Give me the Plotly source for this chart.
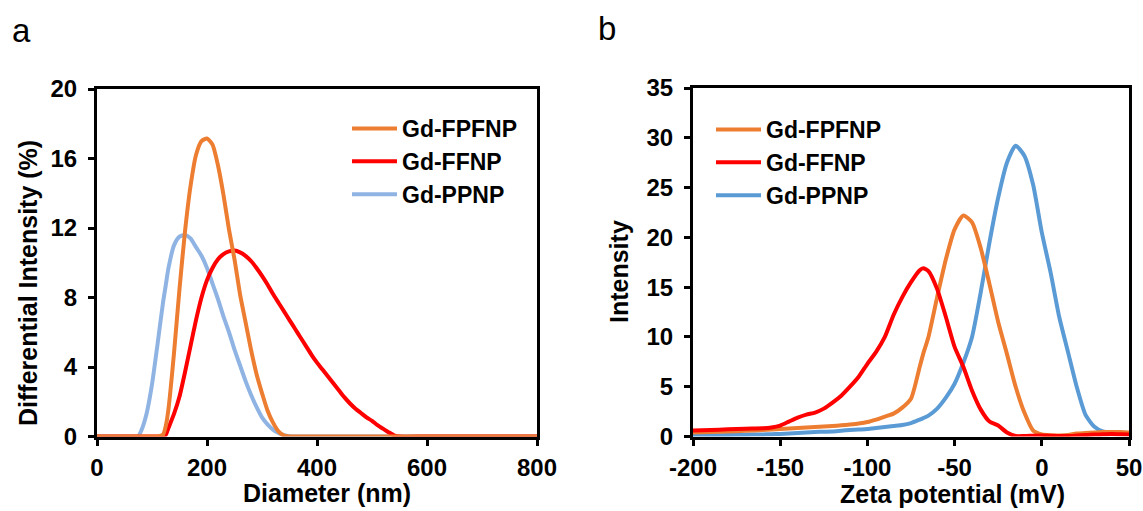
import plotly.graph_objects as go

# ---------------- Panel a: DLS size distribution ----------------
diameter_nm = [0, 50, 70, 75, 80, 90, 100, 110, 120, 125, 130, 140, 150, 160, 170, 180, 190, 200,
               210, 220, 230, 240, 250, 260, 270, 280, 290, 300, 310, 320, 330, 340, 350,
               360, 370, 380, 390, 400, 410, 420, 430, 440, 450, 460, 470, 480, 490, 500,
               510, 520, 530, 540, 550, 600, 700, 800]

fpfnp_size = [0, 0, 0, 0, 0, 0, 0, 0, 0.1, 0.6, 1.6, 4.8, 8.5, 11.8, 14.4, 16.2, 17.0, 17.15,
              16.8, 15.6, 13.9, 11.9, 10.2, 8.2, 6.6, 5.0, 3.6, 2.5, 1.5, 0.8, 0.3, 0.05, 0,
              0, 0, 0, 0, 0, 0, 0, 0, 0, 0, 0, 0, 0, 0, 0,
              0, 0, 0, 0, 0, 0, 0, 0]

ffnp_size = [0, 0, 0, 0, 0, 0, 0, 0, 0, 0.1, 0.5, 1.3, 2.3, 3.7, 5.2, 6.7, 8.0, 9.0,
             9.7, 10.2, 10.5, 10.65, 10.7, 10.6, 10.4, 10.1, 9.7, 9.25, 8.75, 8.2, 7.7, 7.2, 6.7,
             6.2, 5.7, 5.2, 4.7, 4.25, 3.85, 3.45, 3.05, 2.65, 2.25, 1.9, 1.6, 1.35, 1.1, 0.9,
             0.65, 0.45, 0.25, 0.07, 0, 0, 0, 0]

ppnp_size = [0, 0, 0, 0.02, 0.3, 1.3, 3.0, 5.3, 7.7, 8.7, 9.7, 11.0, 11.5, 11.6, 11.4, 10.9, 10.4, 9.7,
             8.8, 7.9, 6.9, 6.0, 5.0, 4.1, 3.2, 2.4, 1.7, 1.1, 0.7, 0.4, 0.2, 0.08, 0.02,
             0, 0, 0, 0, 0, 0, 0, 0, 0, 0, 0, 0, 0, 0, 0,
             0, 0, 0, 0, 0, 0, 0, 0]

# ---------------- Panel b: zeta potential distribution ----------------
zeta_mv = [-200, -190, -180, -170, -160, -155, -150, -145, -140, -135, -130, -125, -120, -115,
           -110, -105, -100, -95, -90, -85, -80, -75, -70, -68, -65, -60, -55, -50, -45, -40,
           -35, -30, -25, -20, -15, -10, -5, 0, 5, 10, 15, 20, 25, 30, 35, 40, 45, 50]

fpfnp_zeta = [0.4, 0.45, 0.5, 0.58, 0.65, 0.7, 0.75, 0.8, 0.85, 0.9, 0.95, 1.0, 1.05, 1.12,
              1.2, 1.3, 1.45, 1.7, 2.0, 2.3, 2.9, 3.8, 7.0, 8.3, 10.0, 14.0, 17.8, 20.8, 22.2, 21.5,
              18.9, 15.3, 11.5, 8.3, 5.0, 2.4, 0.6, 0.2, 0.12, 0.1, 0.15, 0.3, 0.35, 0.4, 0.45, 0.45, 0.45, 0.4]

ffnp_zeta = [0.6, 0.65, 0.72, 0.78, 0.82, 0.9, 1.1, 1.5, 1.9, 2.2, 2.4, 2.8, 3.4, 4.1,
             5.0, 6.0, 7.3, 8.5, 10.0, 12.2, 14.0, 15.5, 16.7, 16.9, 16.6, 14.8, 12.0, 9.0, 7.0, 4.6,
             2.7, 1.5, 1.1, 0.4, 0.05, 0.05, 0.08, 0.1, 0.08, 0.05, 0.05, 0.1, 0.15, 0.2, 0.22, 0.25, 0.22, 0.2]

ppnp_zeta = [0.1, 0.12, 0.15, 0.18, 0.2, 0.23, 0.26, 0.3, 0.35, 0.4, 0.45, 0.48, 0.5, 0.58,
             0.65, 0.7, 0.75, 0.85, 0.95, 1.05, 1.15, 1.35, 1.7, 1.85, 2.1, 2.8, 3.9, 5.3, 7.4, 10.0,
             14.5, 19.5, 24.0, 27.5, 29.2, 28.2, 25.3, 20.5, 16.5, 12.0, 8.5, 5.0, 2.2, 1.0, 0.5, 0.4, 0.38, 0.35]

series_names = ["Gd-FPFNP", "Gd-FFNP", "Gd-PPNP"]

size_ticks = [0, 200, 400, 600, 800]
size_yticks = [0, 4, 8, 12, 16, 20]
zeta_ticks = [-200, -150, -100, -50, 0, 50]
zeta_ticktext = ["-200", "-150", "-100", "-50", "0", "50"]
zeta_yticks = [0, 5, 10, 15, 20, 25, 30, 35]

ORANGE = "#ED7D31"
RED = "#FF0000"
BLUE_A = "#8FB4E3"
BLUE_B = "#5B9BD5"
FONT = "Liberation Sans, Arial, sans-serif"
LW = 4
SMOOTH = 0.6

fig = go.Figure()

def line(color):
    return dict(color=color, width=LW, shape="spline", smoothing=SMOOTH)

# panel a traces (draw order: blue, red, orange on top)
fig.add_trace(go.Scatter(x=diameter_nm, y=ppnp_size, mode="lines", name=series_names[2],
                         line=line(BLUE_A), legend="legend", legendrank=3,
                         legendgroup="a3", xaxis="x", yaxis="y"))
fig.add_trace(go.Scatter(x=diameter_nm, y=ffnp_size, mode="lines", name=series_names[1],
                         line=line(RED), legend="legend", legendrank=2,
                         legendgroup="a2", xaxis="x", yaxis="y"))
fig.add_trace(go.Scatter(x=diameter_nm, y=fpfnp_size, mode="lines", name=series_names[0],
                         line=line(ORANGE), legend="legend", legendrank=1,
                         legendgroup="a1", xaxis="x", yaxis="y"))

# panel b traces
fig.add_trace(go.Scatter(x=zeta_mv, y=ppnp_zeta, mode="lines", name=series_names[2],
                         line=line(BLUE_B), legend="legend2", legendrank=3,
                         legendgroup="b3", xaxis="x2", yaxis="y2"))
fig.add_trace(go.Scatter(x=zeta_mv, y=fpfnp_zeta, mode="lines", name=series_names[0],
                         line=line(ORANGE), legend="legend2", legendrank=1,
                         legendgroup="b1", xaxis="x2", yaxis="y2"))
fig.add_trace(go.Scatter(x=zeta_mv, y=ffnp_zeta, mode="lines", name=series_names[1],
                         line=line(RED), legend="legend2", legendrank=2,
                         legendgroup="b2", xaxis="x2", yaxis="y2"))

W, H = 1143, 511
def px_x(p):
    return p / W
def px_y(p):
    return 1 - p / H

axis_common = dict(showline=True, linecolor="black", linewidth=3, mirror=True,
                   ticks="outside", ticklen=6, tickwidth=2.5, tickcolor="black",
                   showgrid=False, zeroline=False, automargin=False,
                   ticklabeloverflow="allow",
                   tickfont=dict(family=FONT, size=24, color="black", weight="bold"))

title_font = dict(family=FONT, size=25, color="black", weight="bold")
legend_font = dict(family=FONT, size=23, color="black", weight="bold")

def title_ann(text, x, y, angle=0):
    return dict(text=text, x=px_x(x), y=px_y(y), xref="paper", yref="paper",
                xanchor="center", yanchor="middle", showarrow=False, textangle=angle,
                font=title_font)

fig.update_layout(
    width=W, height=H,
    margin=dict(l=0, r=0, t=0, b=0),
    paper_bgcolor="white", plot_bgcolor="white",
    font=dict(family=FONT, color="black"),
    xaxis=dict(domain=[px_x(97), px_x(537)], range=[0, 800], tickvals=size_ticks,
               anchor="y", ticklabelstandoff=2, **axis_common),
    yaxis=dict(domain=[px_y(436.5), px_y(89)], range=[0, 20], tickvals=size_yticks,
               anchor="x", ticklabelstandoff=6, **axis_common),
    xaxis2=dict(domain=[px_x(693), px_x(1129)], range=[-200, 50], tickvals=zeta_ticks,
                ticktext=zeta_ticktext, anchor="y2", ticklabelstandoff=2, **axis_common),
    yaxis2=dict(domain=[px_y(436.5), px_y(88)], range=[0, 35], tickvals=zeta_yticks,
                anchor="x2", ticklabelstandoff=6, **axis_common),
    legend=dict(x=px_x(347), y=px_y(107), xanchor="left", yanchor="top",
                bgcolor="rgba(255,255,255,0)", borderwidth=0, font=legend_font,
                itemwidth=45, tracegroupgap=4, traceorder="normal"),
    legend2=dict(x=px_x(711), y=px_y(108), xanchor="left", yanchor="top",
                 bgcolor="rgba(255,255,255,0)", borderwidth=0, font=legend_font,
                 itemwidth=45, tracegroupgap=4, traceorder="normal"),
    annotations=[
        dict(text="a", x=px_x(10), y=px_y(30), xref="paper", yref="paper",
             xanchor="left", yanchor="middle", showarrow=False,
             font=dict(family=FONT, size=33, color="black")),
        dict(text="b", x=px_x(596), y=px_y(28), xref="paper", yref="paper",
             xanchor="left", yanchor="middle", showarrow=False,
             font=dict(family=FONT, size=33, color="black")),
        title_ann("Diameter (nm)", 327, 493),
        title_ann("Differential Intensity (%)", 28, 283, -90),
        title_ann("Zeta potential (mV)", 952, 494),
        title_ann("Intensity", 619, 272, -90),
    ],
)

fig.write_html("out.html")
